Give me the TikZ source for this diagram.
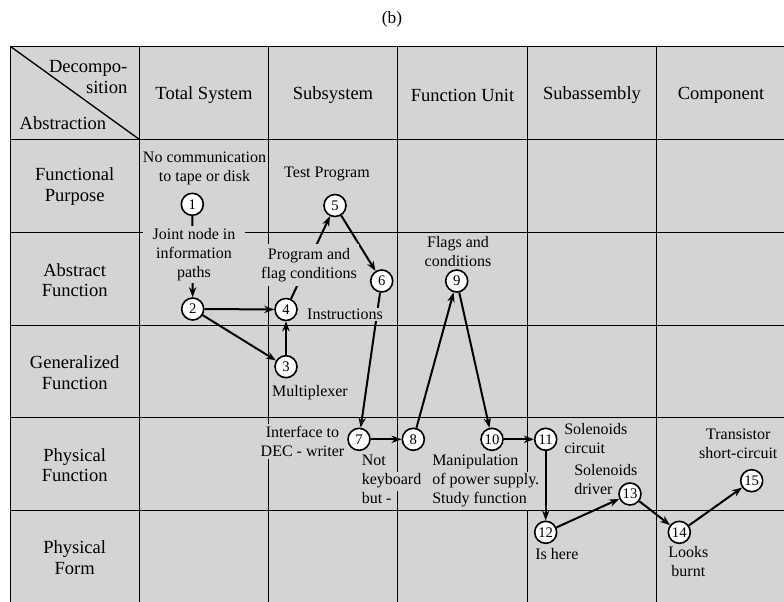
\documentclass[tikz,border=0pt]{standalone}
\usepackage{fontspec}
\setmainfont{Liberation Serif}
\usetikzlibrary{arrows.meta}
\definecolor{cellgray}{RGB}{211,212,214}
\newcommand{\hdrfont}{\fontsize{13.9}{15.45}\selectfont}
\newcommand{\labfont}{\fontsize{12}{14.25}\selectfont}
\newcommand{\numfont}{\fontsize{11}{12}\selectfont}
\newcommand{\gline}[1]{{\setlength{\fboxsep}{0pt}\colorbox{cellgray}{\strut\kern1.5pt #1\kern1.5pt}}}
\begin{document}
\begin{tikzpicture}[x=0.75pt,y=-0.75pt,
  gridline/.style={line width=1pt},
  num/.style={circle, draw, fill=white, line width=1.2pt, minimum size=16.5pt, inner sep=0pt, font=\numfont},
  arr/.style={line width=1.5pt, -{Stealth[length=7.5pt,width=5.5pt]}},
  lab/.style={font=\labfont, align=center, inner sep=1pt},
  labf/.style={lab, fill=cellgray},
  hdr/.style={font=\hdrfont, align=center}]
\useasboundingbox (0,0) rectangle (784,602);
% table background
\fill[cellgray] (10.5,46.5) rectangle (784,602);
% grid
\foreach \y in {46.5,139.5,232.5,325.5,417.5,510.5}
  \draw[gridline] (10.5,\y) -- (784,\y);
\foreach \x in {10.5,139.5,268.5,397.5,527.5,656.5}
  \draw[gridline] (\x,46.5) -- (\x,602);
\coordinate (cornerA) at (10.5,46.5);
\coordinate (cornerB) at (139.5,139.5);
\draw[gridline] (cornerA) -- (cornerB);
% title
\node[font=\fontsize{13}{15}\selectfont] (title) at (392,19) {(b)};
% header texts
\node[hdr, anchor=east, align=right] (hDec) at (132,77) {Decompo-\\sition};
\node[hdr, anchor=west] (hAbs) at (15,122.7) {Abstraction};
\node[hdr] (cTot) at (204,95) {Total System};
\node[hdr] (cSub) at (333,95) {Subsystem};
\node[hdr] (cFun) at (462.5,95) {Function Unit};
\node[hdr] (cSba) at (592,95) {Subassembly};
\node[hdr] (cCom) at (721,95) {Component};
\node[hdr] (rFP) at (74.7,186.5) {Functional\\Purpose};
\node[hdr] (rAF) at (74.7,280) {Abstract\\Function};
\node[hdr] (rGF) at (74.7,372.8) {Generalized\\Function};
\node[hdr] (rPF) at (74.7,465) {Physical\\Function};
\node[hdr] (rPFo) at (74.7,557.8) {Physical\\Form};
% numbered nodes
\node[num] (n1) at (192.3,204.3) {1};
\node[num] (n2) at (192.7,309) {2};
\node[num] (n3) at (286,366.7) {3};
\node[num] (n4) at (286,309.5) {4};
\node[num] (n5) at (335,205.5) {5};
\node[num] (n6) at (381.7,281) {6};
\node[num] (n7) at (359,439.3) {7};
\node[num] (n8) at (413.3,439.3) {8};
\node[num] (n9) at (456.7,281) {9};
\node[num] (n10) at (492,439.3) {10};
\node[num] (n11) at (545.7,439.3) {11};
\node[num] (n12) at (545.7,532.3) {12};
\node[num] (n13) at (630,494) {13};
\node[num] (n14) at (679.3,532.3) {14};
\node[num] (n15) at (751.7,480.7) {15};
% connectors
\draw[arr] (n1) -- (n2);
\draw[arr] (n2) -- (n4);
\draw[arr] (n2) -- (n3);
\draw[arr] (n3) -- (n4);
\draw[arr] (n4) -- (n5);
\draw[arr] (n5) -- (n6);
\draw[arr] (n6) -- (n7);
\draw[arr] (n7) -- (n8);
\draw[arr] (n8) -- (n9);
\draw[arr] (n9) -- (n10);
\draw[arr] (n10) -- (n11);
\draw[arr] (n11) -- (n12);
\draw[arr] (n12) -- (n13);
\draw[arr] (n13) -- (n14);
\draw[arr] (n14) -- (n15);
% labels
\node[lab] (lNo) at (204.5,168) {No communication\\to tape or disk};
\node[lab] (lTest) at (327,174) {Test Program};
\node[labf, inner xsep=7pt, inner ysep=1.5pt] (lJoint) at (194,254.5) {Joint node in\\information\\paths};
\node[labf, inner ysep=3pt, inner xsep=2pt] (lProg) at (309,265) {Program and\\flag conditions};
\node[labf, inner sep=0.5pt] (lInstr) at (345,314.5) {Instructions};
\node[lab] (lFlags) at (458,251.5) {Flags and\\conditions};
\node[lab] (lMux) at (310,392.7) {Multiplexer};
\node[labf, inner ysep=2pt, inner xsep=2pt] (lIface) at (302.5,441.5) {Interface to\\DEC - writer};
\node[lab, anchor=west, align=left, inner sep=0pt] (lNot) at (359.5,481) {\gline{Not}\\\gline{keyboard}\\\gline{but -}};
\node[lab, anchor=west, align=left, inner sep=0pt] (lManip) at (430,481) {\gline{Manipulation}\\\gline{of power supply.}\\\gline{Study function}};
\node[lab, anchor=west, align=left, inner sep=0pt] (lSolC) at (564,438.5) {Solenoids\\circuit};
\node[lab, anchor=west, align=left, inner sep=0pt] (lSolD) at (574,479.5) {Solenoids\\driver};
\node[lab] (lTrans) at (738.3,443.5) {Transistor\\short-circuit};
\node[lab, anchor=west, inner sep=0pt] (lHere) at (535,554.3) {Is here};
\node[lab] (lLooks) at (688.3,561.7) {Looks\\burnt};
\end{tikzpicture}
\end{document}
